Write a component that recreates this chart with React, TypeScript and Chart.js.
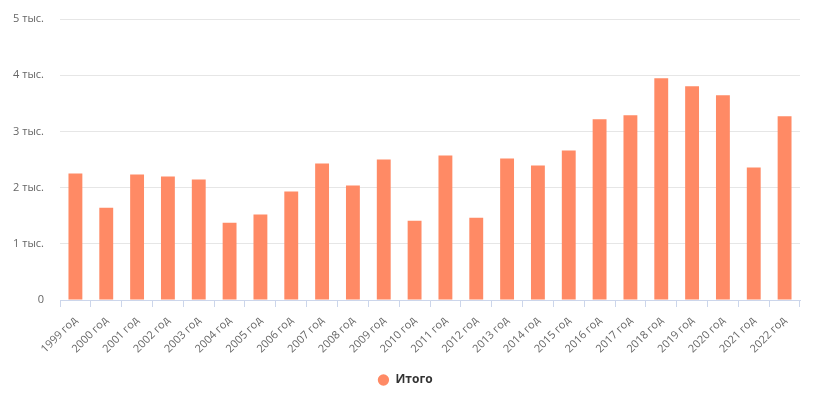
import React, { useEffect, useRef } from "react";
import { Chart, registerables } from "chart.js";

Chart.register(...registerables);

const categories = [
  "1999 год", "2000 год", "2001 год", "2002 год", "2003 год", "2004 год",
  "2005 год", "2006 год", "2007 год", "2008 год", "2009 год", "2010 год",
  "2011 год", "2012 год", "2013 год", "2014 год", "2015 год", "2016 год",
  "2017 год", "2018 год", "2019 год", "2020 год", "2021 год", "2022 год",
];

const totals = [
  2250, 1640, 2232, 2196, 2143, 1375,
  1523, 1929, 2430, 2036, 2500, 1411,
  2571, 1464, 2518, 2393, 2661, 3214,
  3286, 3946, 3804, 3643, 2357, 3268,
];

const seriesName = "Итого";
const yMax = 5000;
const yStep = 1000;

export default function App() {
  const canvasRef = useRef<HTMLCanvasElement | null>(null);

  useEffect(() => {
    const canvas = canvasRef.current;
    if (!canvas) return;
    const chart = new Chart(canvas, {
      type: "bar",
      data: {
        labels: categories,
        datasets: [
          {
            label: seriesName,
            data: totals,
            backgroundColor: "#ff8a65",
            borderWidth: 0,
            barPercentage: 0.9,
            categoryPercentage: 0.5,
            pointStyle: "circle",
          },
        ],
      },
      options: {
        responsive: false,
        animation: false,
        layout: { padding: { top: 19, right: 17, bottom: 9, left: 10 } },
        plugins: {
          tooltip: { enabled: false },
          legend: {
            position: "bottom",
            labels: {
              usePointStyle: true,
              boxWidth: 12,
              boxHeight: 8,
              padding: 10,
              color: "#333333",
              font: { family: "'Open Sans', sans-serif", size: 12, weight: "bold" },
            },
          },
        },
        scales: {
          x: {
            grid: {
              drawOnChartArea: false,
              drawTicks: true,
              tickLength: 7,
              color: "#ccd6eb",
              offset: true,
            },
            border: { display: true, color: "#ccd6eb", width: 1 },
            ticks: {
              color: "#666666",
              font: { family: "'Open Sans', sans-serif", size: 11 },
              maxRotation: 45,
              minRotation: 45,
              padding: 7,
              autoSkip: false,
            },
            afterFit: (scale: any) => {
              scale.height = 64;
            },
          },
          y: {
            min: 0,
            max: yMax,
            grid: { color: "#e6e6e6", drawTicks: false },
            border: { display: false },
            ticks: {
              stepSize: yStep,
              color: "#666666",
              padding: 16,
              font: { family: "'Open Sans', sans-serif", size: 11 },
              callback: (v: any) => (Number(v) === 0 ? "0" : Number(v) / 1000 + " тыс."),
            },
            afterFit: (scale: any) => {
              scale.width = 50;
              scale.paddingTop = 0;
              scale.paddingBottom = 0;
            },
          },
        },
      },
    });
    return () => chart.destroy();
  }, []);

  return (
    <div style={{ position: "absolute", left: 0, top: 0, width: 817, height: 405, background: "#ffffff" }}>
      <canvas ref={canvasRef} width={817} height={405} style={{ display: "block" }} />
    </div>
  );
}
